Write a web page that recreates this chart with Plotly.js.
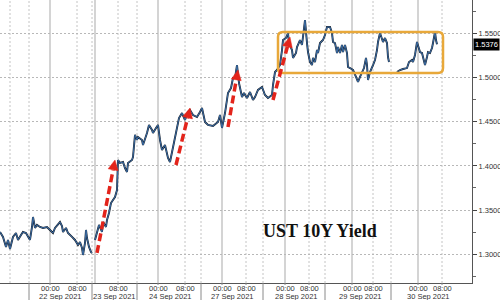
<!DOCTYPE html>
<html><head><meta charset="utf-8">
<script src="https://cdn.plot.ly/plotly-3.0.1.min.js"></script>
<style>html,body{margin:0;padding:0;background:#fff}#chart{width:500px;height:300px}</style>
</head><body><div id="chart"></div>
<script>
// session bar index (compressed intraday time axis) and UST 10Y yield (%)
const bars = [0,3,6,8,10,13,16,18,21,23,26,28,30,32,33,35,37,40,43,47,50,53,55,58,60,62,63,66,68,72,75,78,80,82,83,85,86,87,89,91,92,
  93,
  95,97,99,102,103,106,107,109,111,113,115,117,118,120,123,125,127,128,132,133,135,137,138,142,143,147,149,152,153,156,158,160,162,165,168,170,173,175,177,179,182,185,188,190,193,197,200,202,205,208,213,218,220,222,225,227,228,231,233,235,237,239,242,244,247,250,253,255,258,262,265,268,272,273,275,277,280,282,283,286,288,289,292,293,296,297,300,302,303,305,307,308,310,312,313,315,317,318,320,323,325,327,330,332,333,335,337,338,340,342,343,345,347,348,350,353,356,358,360,362,364,366,367,368,370,373,375,377,378,380,382,383,385,387,388,389,
  393,
  397,400,403,407,409,412,413,415,417,418,420,422,423,425,427,428,430,432,433,435,436,437];
const yields = [1.3252,1.3196,1.3083,1.3162,1.3060,1.3196,1.3241,1.3162,1.3218,1.3252,1.3241,1.3196,1.3162,1.3309,1.3422,1.3298,1.3332,1.3309,1.3298,1.3309,1.3275,1.3241,1.3298,1.3332,1.3365,1.3320,1.3252,1.3298,1.3241,1.3196,1.3162,1.3105,1.3139,1.3071,1.2992,1.3128,1.3275,1.3184,1.3083,1.3026,1.3015,
  null,
  1.3162,1.3252,1.3332,1.3252,1.3365,1.3309,1.3388,1.3467,1.3580,1.3614,1.3648,1.3727,1.4067,1.4033,1.4044,1.3976,1.3931,1.4033,1.4067,1.4101,1.4350,1.4293,1.4327,1.4293,1.4236,1.4372,1.4463,1.4406,1.4372,1.4429,1.4463,1.4293,1.4180,1.4236,1.4089,1.4044,1.4203,1.4293,1.4406,1.4542,1.4598,1.4519,1.4610,1.4632,1.4576,1.4553,1.4610,1.4655,1.4497,1.4463,1.4451,1.4497,1.4576,1.4429,1.4598,1.4779,1.4825,1.4881,1.4994,1.4994,1.5141,1.4938,1.4779,1.4825,1.4768,1.4836,1.4746,1.4779,1.4859,1.4893,1.4802,1.4768,1.4802,1.4915,1.5062,1.5085,1.5141,1.5311,1.5424,1.5447,1.5503,1.5390,1.5311,1.5221,1.5277,1.5345,1.5424,1.5368,1.5458,1.5650,1.5390,1.5288,1.5175,1.5141,1.5221,1.5175,1.5311,1.5277,1.5390,1.5424,1.5481,1.5571,1.5571,1.5503,1.5402,1.5390,1.5277,1.5345,1.5277,1.5368,1.5288,1.5368,1.5277,1.5119,1.5107,1.5085,1.5006,1.4949,1.5006,1.5062,1.5107,1.5221,1.5141,1.4972,1.5062,1.5141,1.5198,1.5311,1.5402,1.5503,1.5424,1.5402,1.5447,1.5390,1.5232,1.5175,
  null,
  1.5062,1.5085,1.5096,1.5107,1.5175,1.5198,1.5175,1.5255,1.5402,1.5368,1.5288,1.5277,1.5221,1.5141,1.5232,1.5288,1.5277,1.5334,1.5390,1.5515,1.5424,1.5376];

const midnightBars = [50,95,158,222,285,352,418];
const morningBars = [10,77,118,185,246,309,373,442];
const sessionStartBars = [29,92,137,201,263,325,391];
const timeTickBars = [50,77,118,158,185,222,246,285,309,352,373,418,442];
const timeTickText = ['00:00','08:00','08:00','00:00','08:00','00:00','08:00','00:00','08:00','00:00','08:00','00:00','08:00'];
const dayLabels = ['22 Sep 2021','23 Sep 2021','24 Sep 2021','27 Sep 2021','28 Sep 2021','29 Sep 2021','30 Sep 2021'];
const dayLabelBars = [60,114,170,232,296,360,428];
const yTicks = [1.30,1.35,1.40,1.45,1.50,1.55];
const lastValue = 1.5376;
const titleText = 'UST 10Y Yield';
// range box (bars, yield)
const boxX = [278,443];
const boxY = [1.5051,1.5515];
// arrows: [tailBar, tailYield], [tipBar, tipYield]
const arrowTails = [[97,1.3015],[176,1.4010],[228,1.4440],[273,1.4746]];
const arrowTips = [[115,1.4067],[190,1.4655],[238,1.5085],[290,1.5458]];

const M = {l:0, r:28, t:0, b:17};
const PW = 500 - M.l - M.r, PH = 300 - M.t - M.b;
const xRange = [0, 472];
const yRange = [1.2675, 1.5877];
const pxX = PW/(xRange[1]-xRange[0]);
const pxY = PH/(yRange[1]-yRange[0]);
const axisFont = {family:'Liberation Sans, Arial', size:7.5, color:'#333'};

const shapes = [];
midnightBars.forEach(b => shapes.push({type:'line', xref:'x', yref:'paper', x0:b, x1:b, y0:0, y1:1, layer:'below', line:{color:'#a9a9a9', width:1}}));
morningBars.concat(sessionStartBars).forEach(b => shapes.push({type:'line', xref:'x', yref:'paper', x0:b, x1:b, y0:0, y1:1, layer:'below', line:{color:'#c4c4c4', width:1, dash:'2px,2px'}}));
sessionStartBars.forEach(b => shapes.push({type:'line', xref:'x', yref:'paper', x0:b, x1:b, y0:0, y1:-M.b/PH, layer:'above', line:{color:'#8a8a8a', width:1}}));
timeTickBars.forEach(b => shapes.push({type:'line', xref:'x', yref:'paper', x0:b, x1:b, y0:0, y1:-2/PH, layer:'above', line:{color:'#888', width:1}}));

// rounded range box
(function(){
  const rx = 5/pxX, ry = 5/pxY;
  const [x0,x1] = boxX, [y0,y1] = boxY;
  const p = `M${x0+rx},${y0} L${x1-rx},${y0} Q${x1},${y0} ${x1},${y0+ry} L${x1},${y1-ry} Q${x1},${y1} ${x1-rx},${y1} L${x0+rx},${y1} Q${x0},${y1} ${x0},${y1-ry} L${x0},${y0+ry} Q${x0},${y0} ${x0+rx},${y0} Z`;
  shapes.push({type:'path', xref:'x', yref:'y', path:p, line:{color:'#E8A83A', width:2.5}, layer:'above'});
})();

// dashed red arrows
arrowTails.forEach((t,i) => {
  const tip = arrowTips[i];
  const dx = (tip[0]-t[0])*pxX, dy = (tip[1]-t[1])*pxY;
  const L = Math.hypot(dx,dy), ux = dx/L, uy = dy/L;
  const hl = 10, hw = 5;
  const bx = tip[0] - ux*hl/pxX, by = tip[1] - uy*hl/pxY;
  shapes.push({type:'line', xref:'x', yref:'y', x0:t[0], y0:t[1], x1:bx, y1:by, layer:'above', line:{color:'#E3241B', width:3.5, dash:'8px,4px'}});
  const px1 = bx + (-uy*hw)/pxX, py1 = by + (ux*hw)/pxY;
  const px2 = bx - (-uy*hw)/pxX, py2 = by - (ux*hw)/pxY;
  shapes.push({type:'path', xref:'x', yref:'y', path:`M${tip[0]},${tip[1]} L${px1},${py1} L${px2},${py2} Z`, fillcolor:'#E3241B', line:{color:'#E3241B', width:0.5}, layer:'above'});
});

const annotations = [];
timeTickBars.forEach((b,i) => annotations.push({xref:'x', yref:'paper', x:b, y:0, xanchor:'center', yanchor:'top', yshift:0, borderpad:0, text:timeTickText[i], showarrow:false, font:axisFont}));
dayLabels.forEach((d,i) => annotations.push({xref:'x', yref:'paper', x:dayLabelBars[i], y:0, xanchor:'center', yanchor:'top', yshift:-7.5, borderpad:0, text:d, showarrow:false, font:axisFont}));
annotations.push({xref:'paper', yref:'y', x:1, y:lastValue, xanchor:'left', yanchor:'middle', xshift:1, text:lastValue.toFixed(4), showarrow:false, bgcolor:'#000', borderpad:1, font:{family:'Liberation Sans, Arial', size:7.5, color:'#fff'}});
annotations.push({xref:'paper', yref:'paper', x:320/PW, y:(PH-231)/PH, xanchor:'center', yanchor:'middle', text:'<b>'+titleText+'</b>', showarrow:false, font:{family:'Liberation Serif, Times New Roman, serif', size:18, color:'#111'}});

const traces = [
  {x:bars, y:yields, type:'scatter', mode:'lines', line:{color:'#15202e', width:1.9}, connectgaps:false, hoverinfo:'skip'},
  {x:bars, y:yields, type:'scatter', mode:'lines', line:{color:'#3f74b0', width:0.9}, connectgaps:false, hoverinfo:'skip'}
];

const layout = {
  width:500, height:300, margin:M, paper_bgcolor:'#fff', plot_bgcolor:'#fff', showlegend:false,
  xaxis:{range:xRange, showgrid:false, zeroline:false, showticklabels:false, ticks:'',
    showline:true, linecolor:'#555', linewidth:1, fixedrange:true},
  yaxis:{range:yRange, side:'right', tickvals:yTicks, tickformat:'.4f', ticks:'outside', ticklen:4, tickcolor:'#444',
    showgrid:true, gridcolor:'#b8b8b8', griddash:'2px,2px', zeroline:false, showline:true, linecolor:'#555', linewidth:1,
    minor:{tickvals:[1.275,1.325,1.375,1.425,1.475,1.525,1.575], ticks:'outside', ticklen:3, tickcolor:'#666', showgrid:false},
    tickfont:axisFont, fixedrange:true},
  shapes:shapes, annotations:annotations
};
Plotly.newPlot('chart', traces, layout, {staticPlot:true, displayModeBar:false});
</script></body></html>
